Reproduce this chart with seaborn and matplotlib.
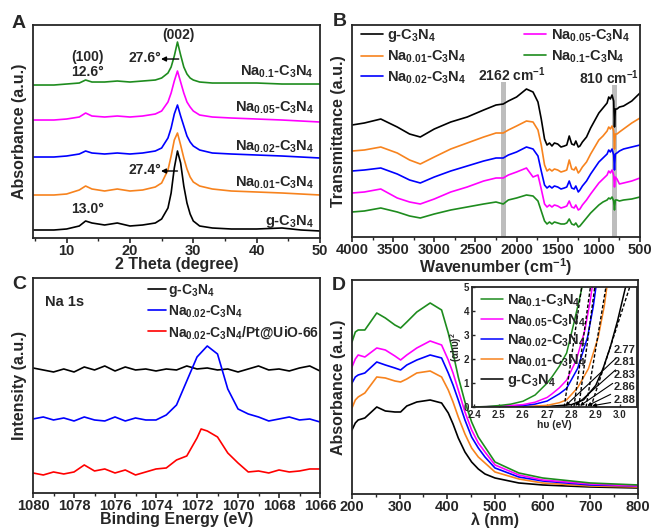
import matplotlib
matplotlib.use("Agg")
import matplotlib.pyplot as plt
import seaborn as sns
from matplotlib.ticker import MultipleLocator

sns.set_style("ticks")
plt.rcParams['font.family'] = ['Liberation Sans', 'DejaVu Sans']
plt.rcParams['font.weight'] = 'bold'
plt.rcParams['axes.labelweight'] = 'bold'
plt.rcParams['mathtext.fontset'] = 'custom'
plt.rcParams['mathtext.rm'] = 'Liberation Sans:bold'
plt.rcParams['mathtext.it'] = 'Liberation Sans:bold'
plt.rcParams['mathtext.bf'] = 'Liberation Sans:bold'

# ---- sample names / colours ----
names = ['g-C$_3$N$_4$', 'Na$_{0.01}$-C$_3$N$_4$', 'Na$_{0.02}$-C$_3$N$_4$',
         'Na$_{0.05}$-C$_3$N$_4$', 'Na$_{0.1}$-C$_3$N$_4$']
colors = ['#000000', '#f7831e', '#0000ff', '#ff00ff', '#1e8c1e']

# ---- A: XRD ----
xrd_theta = [4.7, 8, 10, 12, 13, 14, 16, 18, 20, 22, 24, 25, 26, 26.5, 27, 27.5, 28,
             28.5, 29, 29.5, 30, 31, 33, 36, 40, 44, 47, 50]
xrd_g = [8, 8, 9, 12, 17, 15, 13, 15, 12, 13, 15, 19, 30, 45, 70, 87, 75, 52, 35, 24,
         17, 12, 10, 9, 9, 10, 8, 7]
xrd_na001 = [43, 43, 44, 48, 52, 49, 47, 49, 47, 48, 51, 55, 68, 82, 98, 105, 93, 80,
             69, 61, 56, 52, 49, 47, 46, 45, 44, 43]
xrd_na002 = [81, 81, 82, 84, 87, 85, 84, 85, 84, 85, 87, 90, 100, 110, 124, 133, 122,
             112, 102, 96, 92, 88, 85, 84, 83, 82, 81, 80]
xrd_na005 = [118, 118, 119, 121, 125, 122, 121, 122, 121, 122, 124, 127, 136, 145, 157,
             167, 156, 145, 136, 131, 127, 123, 121, 120, 119, 118, 117, 116]
xrd_na01 = [153, 153, 154, 155, 158, 156, 156, 157, 156, 157, 158, 160, 165, 171, 182,
            196, 183, 171, 164, 160, 158, 156, 155, 155, 155, 154, 154, 154]
xrd_label_y = [16, 55, 91, 130, 166]

# ---- B: FTIR ----
ir_wn = [4000, 3850, 3650, 3450, 3300, 3170, 3000, 2800, 2600, 2400, 2250, 2162, 2100,
         2000, 1880, 1800, 1740, 1700, 1660, 1630, 1600, 1570, 1540, 1500, 1460, 1420,
         1390, 1360, 1330, 1300, 1280, 1250, 1230, 1200, 1150, 1100, 1000, 950, 900,
         880, 860, 840, 820, 810, 800, 780, 750, 700, 600, 500]
ir_g = [112, 114, 118, 110, 103, 100, 108, 115, 120, 127, 132, 133, 136, 140, 148, 145,
        135, 118, 98, 92, 94, 91, 94, 93, 90, 91, 92, 101, 93, 92, 96, 90, 91, 95, 100,
        109, 124, 129, 134, 140, 138, 142, 136, 110, 128, 128, 130, 131, 136, 144]
ir_na001 = [86, 87, 90, 84, 77, 73, 80, 88, 94, 100, 104, 104, 107, 111, 116, 115, 107,
            92, 72, 66, 68, 66, 68, 67, 65, 66, 67, 77, 68, 67, 70, 64, 66, 70, 75, 83,
            97, 101, 106, 110, 108, 111, 106, 88, 103, 103, 105, 108, 114, 119]
ir_na002 = [66, 67, 69, 63, 57, 54, 60, 66, 71, 76, 79, 79, 82, 85, 90, 88, 81, 66, 52,
            49, 51, 49, 51, 50, 48, 49, 50, 56, 49, 48, 51, 45, 47, 51, 56, 63, 75, 79,
            83, 87, 85, 88, 82, 67, 83, 84, 86, 88, 90, 92]
ir_na005 = [44, 45, 48, 39, 35, 33, 38, 45, 50, 56, 59, 59, 62, 65, 69, 60, 62, 48, 33,
            30, 32, 30, 32, 31, 29, 30, 31, 36, 30, 29, 32, 27, 28, 32, 37, 43, 54, 58,
            62, 66, 64, 67, 62, 50, 60, 58, 53, 54, 56, 59]
ir_na01 = [25, 26, 29, 25, 21, 19, 23, 27, 30, 33, 35, 33, 37, 39, 42, 41, 36, 26, 16,
           13, 15, 13, 15, 14, 13, 13, 14, 18, 13, 12, 14, 10, 11, 14, 19, 24, 32, 35,
           37, 39, 38, 40, 36, 27, 37, 37, 36, 37, 38, 40]
ir_bands = [2162, 810]

# ---- C: XPS Na 1s ----
xps_be = [1080, 1079.5, 1079, 1078.5, 1078, 1077.5, 1077, 1076.5, 1076, 1075.5, 1075,
          1074.5, 1074, 1073.5, 1073, 1072.5, 1072, 1071.5, 1071, 1070.5, 1070, 1069.5,
          1069, 1068.5, 1068, 1067.5, 1067, 1066.5, 1066]
xps_g = [125, 123, 121, 124, 121, 126, 123, 127, 122, 126, 123, 124, 122, 124, 123, 127,
         124, 125, 123, 124, 121, 124, 127, 123, 124, 122, 125, 127, 122]
xps_na002 = [74, 76, 73, 75, 72, 76, 73, 72, 76, 72, 75, 73, 73, 78, 88, 112, 136, 147,
             139, 104, 84, 79, 76, 72, 74, 76, 73, 74, 71]
xps_pt_be = [1080, 1079.5, 1079, 1078.5, 1078, 1077.5, 1077, 1076.5, 1076, 1075.5, 1075,
             1074.5, 1074, 1073.5, 1073, 1072.5, 1072, 1071.8, 1071.5, 1071, 1070.5,
             1070, 1069.5, 1069, 1068.5, 1068, 1067.5, 1067, 1066.5, 1066]
xps_pt = [20, 18, 21, 19, 21, 28, 22, 24, 20, 23, 18, 21, 24, 25, 33, 37, 55, 64, 62,
          56, 40, 30, 21, 22, 20, 23, 21, 22, 24, 24]
xps_names = ['g-C$_3$N$_4$', 'Na$_{0.02}$-C$_3$N$_4$', 'Na$_{0.02}$-C$_3$N$_4$/Pt@UiO-66']
xps_colors = ['#000000', '#0000ff', '#ff0000']

# ---- D: UV-vis ----
uv_wl = [200, 207, 213, 227, 252, 270, 290, 302, 315, 336, 364, 388, 402, 412, 423, 437,
         451, 465, 479, 500, 550, 600, 700, 800]
uv_g = [64, 71, 74, 76, 87, 83, 82, 82, 88, 92, 94, 91, 81, 70, 56, 42, 32, 25, 20, 16,
        11, 9, 7, 6]
uv_na001 = [86, 94, 97, 101, 117, 116, 113, 112, 115, 121, 123, 117, 104, 92, 77, 60, 46,
            37, 31, 22, 15, 11, 8, 7]
uv_na002 = [111, 117, 119, 121, 132, 129, 126, 124, 129, 134, 139, 136, 121, 109, 94, 74,
            57, 46, 37, 26, 17, 13, 9, 8]
uv_na005 = [127, 135, 139, 137, 146, 144, 138, 134, 139, 146, 153, 149, 134, 121, 104, 82,
            64, 51, 42, 29, 19, 14, 10, 8]
uv_na01 = [152, 162, 164, 164, 181, 176, 169, 166, 172, 182, 191, 184, 161, 141, 117, 92,
           72, 57, 47, 32, 21, 16, 11, 9]

# inset Tauc plot
tauc_g_x = [2.39, 2.7, 2.8, 2.85, 2.9, 2.93, 2.96, 2.99, 3.03]
tauc_g_y = [0, 0.02, 0.1, 0.3, 0.9, 1.6, 2.5, 3.6, 5.3]
tauc_na001_x = [2.39, 2.6, 2.7, 2.75, 2.78, 2.825, 2.87, 2.91, 2.935, 2.95]
tauc_na001_y = [0, 0.02, 0.07, 0.18, 0.3, 0.8, 1.6, 2.9, 4.2, 5.3]
tauc_na002_x = [2.39, 2.5, 2.6, 2.65, 2.7, 2.72, 2.75, 2.78, 2.825, 2.866, 2.89, 2.905]
tauc_na002_y = [0, 0.02, 0.06, 0.12, 0.25, 0.37, 0.55, 0.78, 1.6, 2.9, 4.2, 5.3]
tauc_na005_x = [2.39, 2.5, 2.6, 2.65, 2.7, 2.72, 2.75, 2.78, 2.82, 2.855, 2.875, 2.89]
tauc_na005_y = [0, 0.03, 0.1, 0.2, 0.4, 0.55, 0.8, 1.12, 1.96, 3.2, 4.3, 5.3]
tauc_na01_x = [2.39, 2.45, 2.5, 2.55, 2.6, 2.65, 2.7, 2.72, 2.75, 2.78, 2.81, 2.835, 2.85]
tauc_na01_y = [0, 0.02, 0.06, 0.12, 0.24, 0.5, 1.0, 1.26, 1.7, 2.25, 3.5, 4.6, 5.3]
band_gap = [2.88, 2.86, 2.83, 2.81, 2.77]          # g, 0.01, 0.02, 0.05, 0.1
tangent_top = [3.04, 2.942, 2.896, 2.878, 2.842]    # x where tangent reaches 5
gap_label_y = [0.29, 0.82, 1.33, 1.89, 2.38]


def style_axis(ax):
    for s in ax.spines.values():
        s.set_linewidth(1.3)
    ax.set_yticks([])
    ax.tick_params(axis='x', which='major', direction='out', length=3.5, width=1.2,
                   labelsize=10.5, pad=1)
    ax.tick_params(axis='x', which='minor', direction='out', length=2.2, width=1.0)


fig = plt.figure(figsize=(6.54, 5.29), dpi=100)

# ================= A =================
axA = fig.add_axes([0.0505, 0.5501, 0.4388, 0.4026])
xrd_all = [xrd_g, xrd_na001, xrd_na002, xrd_na005, xrd_na01]
for y, c in zip(xrd_all, colors):
    sns.lineplot(x=xrd_theta, y=y, color=c, lw=1.2, ax=axA)
axA.set_xlim(4.7, 50)
axA.set_ylim(0, 213)
axA.xaxis.set_major_locator(MultipleLocator(10))
axA.xaxis.set_minor_locator(MultipleLocator(5))
style_axis(axA)
axA.set_xlabel('2 Theta (degree)', fontsize=11.5, labelpad=-1)
axA.set_ylabel('Absorbance (a.u.)', fontsize=11.5, labelpad=4)
for name, yl in zip(names, xrd_label_y):
    axA.text(49, yl, name, ha='right', va='center', fontsize=10.5)
axA.text(27.6, 203, '(002)', ha='center', va='center', fontsize=10)
axA.text(13.3, 181, '(100)', ha='center', va='center', fontsize=10)
axA.text(13.3, 166, '12.6°', ha='center', va='center', fontsize=10)
axA.text(13.3, 29, '13.0°', ha='center', va='center', fontsize=10)
axA.text(24.9, 180, '27.6°', ha='right', va='center', fontsize=10)
axA.text(24.9, 68, '27.4°', ha='right', va='center', fontsize=10)
for ya, xs in [(179, 27.7), (67, 27.5)]:
    axA.annotate('', xy=(24.9, ya), xytext=(xs, ya),
                 arrowprops=dict(arrowstyle='-|>', color='black', lw=1.0,
                                 mutation_scale=7, shrinkA=0, shrinkB=0))

# ================= B =================
axB = fig.add_axes([0.5382, 0.552, 0.4404, 0.4007])
for wn, top in zip(ir_bands, [155 / 212, 152 / 212]):
    axB.axvspan(wn + 30, wn - 30, ymin=0, ymax=top, color='#bdbdbd', lw=0, zorder=0)
ir_all = [ir_g, ir_na001, ir_na002, ir_na005, ir_na01]
for name, y, c in zip(names, ir_all, colors):
    sns.lineplot(x=ir_wn, y=y, color=c, lw=1.2, ax=axB, label=name)
axB.set_xlim(4000, 500)
axB.set_ylim(0, 212)
axB.xaxis.set_major_locator(MultipleLocator(500))
axB.xaxis.set_minor_locator(MultipleLocator(250))
style_axis(axB)
axB.set_xlabel('Wavenumber (cm$^{-1}$)', fontsize=11.5, labelpad=-1)
axB.set_ylabel('Transmittance (a.u.)', fontsize=11.5, labelpad=4)
axB.text(2060, 162, '2162 cm$^{-1}$', ha='center', va='center', fontsize=10)
axB.text(880, 159, '810 cm$^{-1}$', ha='center', va='center', fontsize=10)
axB.legend(ncol=2, loc='upper left', bbox_to_anchor=(0.0, 1.03), frameon=False,
           fontsize=10.5, handlelength=1.5, handletextpad=0.3, labelspacing=0.3,
           columnspacing=4.0, borderaxespad=0.2)

# ================= C =================
axC = fig.add_axes([0.0505, 0.0681, 0.4388, 0.4064])
sns.lineplot(x=xps_be, y=xps_g, color=xps_colors[0], lw=1.2, ax=axC, label=xps_names[0])
sns.lineplot(x=xps_be, y=xps_na002, color=xps_colors[1], lw=1.2, ax=axC,
             label=xps_names[1])
sns.lineplot(x=xps_pt_be, y=xps_pt, color=xps_colors[2], lw=1.2, ax=axC,
             label=xps_names[2])
axC.set_xlim(1080, 1066)
axC.set_ylim(0, 215)
axC.xaxis.set_major_locator(MultipleLocator(2))
axC.xaxis.set_minor_locator(MultipleLocator(1))
style_axis(axC)
axC.set_xlabel('Binding Energy (eV)', fontsize=11.5, labelpad=-1)
axC.set_ylabel('Intensity (a.u.)', fontsize=11.5, labelpad=4)
axC.text(1079.4, 191, 'Na 1s', ha='left', va='center', fontsize=10.5)
axC.legend(loc='upper left', bbox_to_anchor=(0.37, 1.02), frameon=False, fontsize=10,
           handlelength=1.3, handletextpad=0.2, labelspacing=0.3, borderaxespad=0.2)

# ================= D =================
axD = fig.add_axes([0.5382, 0.0662, 0.4373, 0.4045])
uv_all = [uv_g, uv_na001, uv_na002, uv_na005, uv_na01]
for y, c in zip(uv_all, colors):
    sns.lineplot(x=uv_wl, y=y, color=c, lw=1.2, ax=axD)
axD.set_xlim(200, 800)
axD.set_ylim(0, 214)
axD.xaxis.set_major_locator(MultipleLocator(100))
axD.xaxis.set_minor_locator(MultipleLocator(50))
style_axis(axD)
axD.set_xlabel('λ (nm)', fontsize=11.5, labelpad=-1)
axD.set_ylabel('Absorbance (a.u.)', fontsize=11.5, labelpad=4)

# inset
axI = fig.add_axes([0.7217, 0.2306, 0.2523, 0.2268])
tauc_all = [(tauc_g_x, tauc_g_y), (tauc_na001_x, tauc_na001_y),
            (tauc_na002_x, tauc_na002_y), (tauc_na005_x, tauc_na005_y),
            (tauc_na01_x, tauc_na01_y)]
for name, (tx, ty), c in zip(names, tauc_all, colors):
    sns.lineplot(x=tx, y=ty, color=c, lw=1.1, ax=axI, label=name)
for eg, xt in zip(band_gap, tangent_top):
    axI.plot([eg, xt], [0, 5], color='black', lw=1.0, ls=(0, (2.5, 1.5)))
for eg, ly, txt in zip(band_gap, gap_label_y, ['2.88', '2.86', '2.83', '2.81', '2.77']):
    axI.annotate(txt, xy=(eg + 0.005, 0.05), xytext=(2.975, ly), fontsize=8,
                 ha='left', va='center',
                 arrowprops=dict(arrowstyle='-|>', color='black', lw=0.8,
                                 mutation_scale=5, shrinkA=0, shrinkB=0))
axI.set_xlim(2.39, 3.07)
axI.set_ylim(0, 5)
axI.xaxis.set_major_locator(MultipleLocator(0.1))
axI.yaxis.set_major_locator(MultipleLocator(1))
for s in axI.spines.values():
    s.set_linewidth(1.3)
axI.tick_params(direction='in', length=2.5, width=1.0, labelsize=7)
axI.tick_params(axis='x', pad=2.5)
axI.tick_params(axis='y', pad=2)
axI.set_xlabel('hυ (eV)', fontsize=7.5, labelpad=0)
axI.set_ylabel('(αhυ)$^2$', fontsize=7, labelpad=0)
handles, labels = axI.get_legend_handles_labels()
axI.legend(handles[::-1], labels[::-1], loc='upper left', bbox_to_anchor=(0.0, 1.03),
           frameon=False, fontsize=10.5, handlelength=1.5, handletextpad=0.3,
           labelspacing=0.25, borderaxespad=0.2)

# panel letters
for lab, px, py in [('A', 12, 15), ('B', 333, 13), ('C', 12, 276), ('D', 332, 277)]:
    fig.text(px / 654, 1 - py / 529, lab, fontsize=14, fontweight='bold', ha='left',
             va='top')

fig.savefig('out.png', dpi=100)
